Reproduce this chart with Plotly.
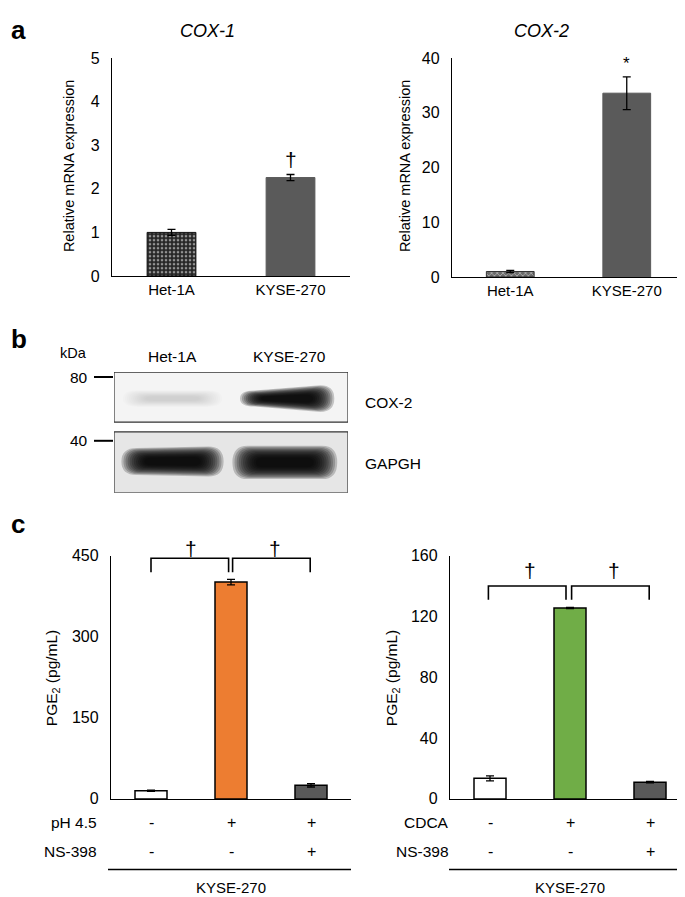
import plotly.graph_objects as go

W, H = 685, 897
FONT = "Liberation Sans, Arial, sans-serif"

# ---------------- data ----------------
cox_groups = ["Het-1A", "KYSE-270"]
cox1_vals = [1.00, 2.26]
cox1_err = [0.07, 0.07]
cox2_vals = [1.0, 33.6]
cox2_err = [0.2, 3.0]

pge_groups = ["control", "treated", "treated + NS-398"]
ph_vals = [15, 401, 25]
ph_err = [1.0, 5.0, 3.0]
cdca_vals = [13.5, 125.5, 11.0]
cdca_err = [1.6, 0.4, 0.5]

ph_row = ["-", "+", "+"]
cdca_row = ["-", "+", "+"]
ns_row = ["-", "-", "+"]

blot_lanes = ["Het-1A", "KYSE-270"]
cox2_band = [0.05, 1.0]      # relative band darkness
gapdh_band = [1.0, 1.0]
markers_kda = [80, 40]


def px(x):
    return x / W


def py(y):
    return 1 - y / H


fig = go.Figure()

xa = list(range(len(cox_groups)))
xc = list(range(len(pge_groups)))

eb = dict(type="data", color="black", thickness=1.3, width=4)

# a - COX-1
fig.add_trace(go.Bar(x=xa, y=cox1_vals, width=0.41, xaxis="x", yaxis="y",
                     error_y=dict(eb, array=cox1_err),
                     marker=dict(color=["#262626", "#5a5a5a"],
                                 line=dict(color=["#111111", "#5a5a5a"], width=1),
                                 pattern=dict(shape=[".", ""], fgcolor="#f0f0f0",
                                              bgcolor=["#262626", "#5a5a5a"],
                                              size=4, solidity=0.35))))
# a - COX-2
fig.add_trace(go.Bar(x=xa, y=cox2_vals, width=0.41, xaxis="x2", yaxis="y2",
                     error_y=dict(eb, array=cox2_err),
                     marker=dict(color=["#6a6a6a", "#5a5a5a"],
                                 line=dict(color=["#333333", "#5a5a5a"], width=1),
                                 pattern=dict(shape=["x", ""], fgcolor="#e0e0e0",
                                              bgcolor=["#6a6a6a", "#5a5a5a"],
                                              size=4, solidity=0.35))))
# c - pH
fig.add_trace(go.Bar(x=xc, y=ph_vals, width=0.4, xaxis="x3", yaxis="y3",
                     error_y=dict(eb, array=ph_err),
                     marker=dict(color=["white", "#ed7d31", "#595959"],
                                 line=dict(color="black", width=1.5))))
# c - CDCA
fig.add_trace(go.Bar(x=xc, y=cdca_vals, width=0.4, xaxis="x4", yaxis="y4",
                     error_y=dict(eb, array=cdca_err),
                     marker=dict(color=["white", "#70ad47", "#595959"],
                                 line=dict(color="black", width=1.5))))

tickfont = dict(family=FONT, size=16, color="black")
catfont = dict(family=FONT, size=15, color="black")
common_y = dict(showline=True, linecolor="black", linewidth=1.3, ticks="",
                showgrid=False, zeroline=False, tickfont=tickfont,
                ticklabelstandoff=8, fixedrange=True)
common_x = dict(showline=True, linecolor="black", linewidth=1.3, ticks="",
                showgrid=False, zeroline=False, tickfont=catfont, fixedrange=True)

fig.update_layout(
    width=W, height=H, margin=dict(l=0, r=0, t=0, b=0),
    paper_bgcolor="white", plot_bgcolor="white", showlegend=False,
    font=dict(family=FONT, color="black"),
    xaxis=dict(common_x, domain=[px(104), px(342)], anchor="y", range=[-0.5, 1.5],
               tickvals=xa, ticktext=cox_groups),
    yaxis=dict(common_y, domain=[py(265), py(43)], anchor="x", range=[0, 5], dtick=1),
    xaxis2=dict(common_x, domain=[px(444), px(677)], anchor="y2", range=[-0.5, 1.5],
                tickvals=xa, ticktext=cox_groups),
    yaxis2=dict(common_y, domain=[py(266), py(43)], anchor="x2", range=[0, 40], dtick=10),
    xaxis3=dict(common_x, domain=[px(103), px(343)], anchor="y3", range=[-0.5, 2.5],
                showticklabels=False),
    yaxis3=dict(common_y, domain=[py(798), py(550)], anchor="x3", range=[0, 450], dtick=150),
    xaxis4=dict(common_x, domain=[px(442), px(682)], anchor="y4", range=[-0.5, 2.5],
                showticklabels=False),
    yaxis4=dict(common_y, domain=[py(798), py(550)], anchor="x4", range=[0, 160], dtick=40),
    xaxis5=dict(domain=[px(106), px(340)], anchor="y5", range=[-0.5, 1.5], visible=False,
                fixedrange=True),
    yaxis5=dict(domain=[py(486), py(363)], anchor="x5", range=[486, 363], visible=False,
                fixedrange=True),
)

shapes = []
ann = []


def text(x, y, s, size=14, xanchor="center", yanchor="middle", xref="paper", yref="paper",
         italic=False, bold=False, angle=0):
    if italic:
        s = "<i>" + s + "</i>"
    if bold:
        s = "<b>" + s + "</b>"
    ann.append(dict(x=x, y=y, xref=xref, yref=yref, text=s, showarrow=False,
                    xanchor=xanchor, yanchor=yanchor, textangle=angle,
                    font=dict(family=FONT, size=size, color="black")))


# panel labels
text(px(1), py(14), "a", size=26, xanchor="left", bold=True)
text(px(1), py(329), "b", size=26, xanchor="left", bold=True)
text(px(1), py(518), "c", size=26, xanchor="left", bold=True)

# panel a titles and axis titles
text(px(199), py(15), "COX-1", size=18, italic=True)
text(px(533), py(15), "COX-2", size=18, italic=True)
text(px(61), py(153), "Relative mRNA expression", size=14.5, angle=-90)
text(px(397), py(153), "Relative mRNA expression", size=14.5, angle=-90)
text(1, cox1_vals[1] + 0.42, "†", size=21, xref="x", yref="y")
text(1, cox2_vals[1] + cox2_err[1] + 2.4, "*", size=17, xref="x2", yref="y2")

# panel c axis titles
text(px(44), py(675), "PGE<sub>2</sub> (pg/mL)", size=15.5, angle=-90)
text(px(384), py(675), "PGE<sub>2</sub> (pg/mL)", size=15.5, angle=-90)

# brackets panel c
def bracket(xref, yref, x0, x1, ytop, ybot):
    shapes.append(dict(type="path", xref=xref, yref=yref,
                       path=f"M {x0},{ybot} L {x0},{ytop} L {x1},{ytop} L {x1},{ybot}",
                       line=dict(color="black", width=1.6)))


bracket("x3", "y3", 0, 0.97, 445, 419)
bracket("x3", "y3", 1.02, 1.99, 445, 419)
text(0.5, py(543), "†", size=21, xref="x3")
text(1.55, py(543), "†", size=21, xref="x3")
bracket("x4", "y4", -0.02, 0.95, 140, 131)
bracket("x4", "y4", 1.02, 1.99, 140, 131)
text(0.5, py(565), "†", size=21, xref="x4")
text(1.55, py(565), "†", size=21, xref="x4")

# treatment rows
for i in xc:
    text(i, py(822), ph_row[i], size=16, xref="x3")
    text(i, py(852), ns_row[i], size=16, xref="x3")
    text(i, py(822), cdca_row[i], size=16, xref="x4")
    text(i, py(852), ns_row[i], size=16, xref="x4")
text(px(91), py(822), "pH 4.5", size=15.5, xanchor="right")
text(px(91), py(852), "NS-398", size=15.5, xanchor="right")
text(px(443), py(822), "CDCA", size=15.5, xanchor="right")
text(px(443), py(852), "NS-398", size=15.5, xanchor="right")
shapes.append(dict(type="line", xref="paper", yref="paper", x0=px(100), x1=px(343),
                   y0=py(870), y1=py(870), line=dict(color="black", width=1.3)))
shapes.append(dict(type="line", xref="paper", yref="paper", x0=px(441), x1=px(685),
                   y0=py(870), y1=py(870), line=dict(color="black", width=1.3)))
text(1, py(888), "KYSE-270", size=15, xref="x3")
text(1, py(888), "KYSE-270", size=15, xref="x4")

# ---------------- panel b: western blot ----------------
text(px(65), py(344), "kDa", size=14.5)
for i, lane in enumerate(blot_lanes):
    text(i, py(347), lane, size=15.5, xref="x5")
text(px(355), py(394), "COX-2", size=15.5, xanchor="left")
text(px(355), py(456), "GAPGH", size=15.5, xanchor="left")

# marker lines
for kda, ym in zip(markers_kda, [368, 433]):
    shapes.append(dict(type="line", xref="paper", yref="paper", x0=px(86), x1=px(105),
                       y0=py(ym), y1=py(ym), line=dict(color="black", width=2)))
    text(px(82), py(ym), str(kda), size=15.5, xanchor="right")

# blot boxes
shapes.append(dict(type="rect", xref="x5", yref="y5", x0=-0.5, x1=1.5, y0=363, y1=414,
                   fillcolor="#f4f4f4", line=dict(color="#333333", width=1.2), layer="below"))
shapes.append(dict(type="rect", xref="x5", yref="y5", x0=-0.5, x1=1.5, y0=424, y1=486,
                   fillcolor="#e6e6e6", line=dict(color="#333333", width=1.2), layer="below"))


def band(cx, hw, cy, hh, dark, taper=0.0, n=12):
    for k in range(n):
        t = k / (n - 1)
        gx = 1.12 - 0.5 * t
        gy = 1.7 - 1.2 * t
        w = hw * gx
        h = hh * gy
        hl = h * (1 - taper)
        x0, x1 = cx - w, cx + w
        r = min(w * 0.3, 0.13)
        path = (f"M {x0 + r},{cy - hl} L {x1 - r},{cy - h} "
                f"Q {x1},{cy - h} {x1},{cy} Q {x1},{cy + h} {x1 - r},{cy + h} "
                f"L {x0 + r},{cy + hl} Q {x0},{cy + hl} {x0},{cy} Q {x0},{cy - hl} {x0 + r},{cy - hl} Z")
        shapes.append(dict(type="path", xref="x5", yref="y5", path=path,
                           fillcolor="black", opacity=min(1, 0.2 * dark),
                           line=dict(width=0), layer="above"))


band(0.0, 0.38, 390, 5, cox2_band[0])
band(0.98, 0.36, 390, 8, cox2_band[1], taper=0.4)
band(0.0, 0.39, 454, 9, gapdh_band[0], taper=0.1)
band(0.96, 0.40, 455, 10, gapdh_band[1])

fig.update_layout(shapes=shapes, annotations=ann)
fig.write_html("out.html")
